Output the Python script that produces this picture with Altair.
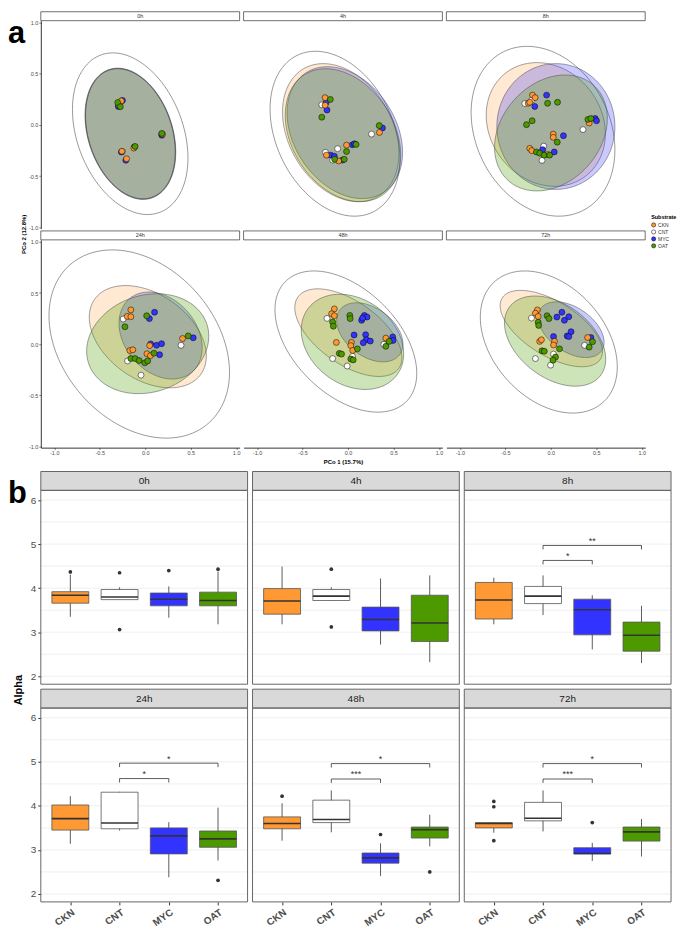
import json
import numpy as np
import pandas as pd
import altair as alt

FONT = "Liberation Sans"
SUBS = ["CKN", "CNT", "MYC", "OAT"]
SUB_COLORS = ["#FF9933", "#FFFFFF", "#3333FF", "#4C9900"]
ELL_OPACITY = {"CKN": 0.22, "MYC": 0.26, "OAT": 0.28}
DRAW_ORDER = ["CNT", "MYC", "CKN", "OAT"]

A_TICKS = [-1.0, -0.5, 0.0, 0.5, 1.0]
B_TICKS = [2, 3, 4, 5, 6]
B_GRID = [2.0, 2.5, 3.0, 3.5, 4.0, 4.5, 5.0, 5.5, 6.0]

# ---------------- (a) PCoA scores: (PCo1, PCo2) ----------------
PTS_0H = {
    "CNT": [(-0.28, 0.20), (-0.25, -0.26), (0.18, -0.09)],
    "MYC": [(-0.296, 0.181), (-0.25, 0.24), (-0.262, -0.265), (-0.213, -0.345), (-0.12, -0.215), (0.183, -0.10)],
    "CKN": [(-0.263, 0.235), (-0.288, 0.19), (-0.256, -0.257), (-0.205, -0.33), (-0.125, -0.226), (0.19, -0.09)],
    "OAT": [(-0.302, 0.219), (-0.274, 0.178), (-0.111, -0.21), (0.183, -0.083)],
}
PTS_4H = {
    "CNT": [(-0.288, 0.197), (0.259, -0.089), (-0.114, -0.232), (-0.248, -0.267), (-0.169, -0.343)],
    "MYC": [(-0.241, 0.219), (-0.231, 0.146), (0.379, -0.029), (0.049, -0.194), (0.071, -0.184),
            (-0.19, -0.295), (-0.15, -0.305), (-0.06, -0.343)],
    "CKN": [(-0.252, 0.267), (-0.252, 0.193), (0.346, -0.073), (-0.016, -0.197), (-0.237, -0.295), (-0.103, -0.352)],
    "OAT": [(-0.194, 0.25), (-0.288, 0.076), (0.343, -0.006), (0.089, -0.19), (-0.016, -0.26),
            (-0.147, -0.336), (-0.041, -0.336)],
}
PTS_8H = {
    "CNT": [(-0.212, 0.241), (-0.285, 0.21), (0.354, -0.045), (-0.078, -0.207), (-0.096, -0.346)],
    "MYC": [(-0.176, 0.181), (-0.046, 0.292), (0.488, 0.063), (0.503, 0.041), (0.139, -0.105),
            (-0.089, -0.241), (0.038, -0.264)],
    "CKN": [(-0.201, 0.292), (-0.172, 0.267), (-0.248, 0.212), (-0.231, 0.222), (0.422, 0.019),
            (0.027, -0.089), (0.027, -0.121), (-0.231, -0.229), (-0.209, -0.251), (-0.035, -0.289)],
    "OAT": [(-0.035, 0.212), (0.074, 0.222), (-0.205, 0.041), (-0.267, 0.003), (0.408, 0.054), (0.441, 0.063),
            (0.071, -0.168), (-0.158, -0.264), (-0.122, -0.276), (-0.074, -0.295), (-0.013, -0.295)],
}
PTS_24H = {
    "CNT": [(-0.242, 0.246), (-0.194, -0.164), (-0.046, -0.303), (0.394, -0.011)],
    "MYC": [(0.046, 0.25), (0.103, 0.312), (0.06, 0.002), (0.125, -0.011), (0.18, 0.005), (0.158, -0.103), (0.528, 0.062)],
    "CKN": [(-0.158, 0.335), (-0.198, 0.271), (-0.158, 0.268), (-0.169, -0.062), (-0.136, -0.055),
            (0.049, -0.014), (0.019, -0.094), (0.057, -0.113), (0.411, 0.055)],
    "OAT": [(-0.223, 0.17), (0.016, 0.278), (-0.158, -0.141), (-0.111, -0.141), (-0.067, -0.16),
            (-0.005, -0.183), (0.027, -0.164), (0.096, -0.088), (0.473, 0.081)],
}
PTS_48H = {
    "CNT": [(-0.231, 0.252), (0.394, -0.002), (-0.169, -0.141), (0.049, -0.119), (-0.009, -0.214)],
    "MYC": [(0.18, 0.281), (0.209, 0.265), (0.15, 0.233), (0.161, 0.255), (0.067, 0.09), (0.194, 0.093),
            (0.201, 0.043), (0.245, 0.03), (0.168, 0.014), (0.492, 0.071), (0.495, 0.036)],
    "CKN": [(-0.15, 0.345), (-0.18, 0.297), (-0.15, 0.278), (-0.128, 0.017), (0.038, 0.017),
            (0.031, -0.014), (0.052, -0.062), (0.416, 0.059)],
    "OAT": [(-0.169, 0.217), (-0.161, 0.176), (0.02, 0.281), (0.024, 0.25), (0.103, -0.046), (0.416, -0.021),
            (0.452, 0.027), (-0.096, -0.09), (-0.071, -0.097), (0.031, -0.145), (0.057, -0.154)],
}
PTS_72H = {
    "CNT": [(-0.212, 0.255), (0.03, -0.097), (-0.002, -0.205), (-0.169, -0.141), (0.372, -0.011)],
    "MYC": [(0.067, 0.265), (0.122, 0.312), (0.198, 0.268), (0.15, 0.233), (0.03, 0.074), (0.18, 0.081),
            (0.223, 0.122), (0.198, 0.074), (0.441, 0.065)],
    "CKN": [(-0.147, 0.335), (-0.169, 0.303), (-0.139, 0.271), (-0.122, 0.027), (-0.103, 0.043),
            (0.041, 0.027), (0.03, -0.008), (0.405, 0.065)],
    "OAT": [(-0.139, 0.214), (-0.133, 0.183), (-0.041, 0.278), (-0.02, 0.25), (0.096, -0.046), (-0.096, -0.065),
            (-0.071, -0.069), (0.052, -0.126), (0.024, -0.157), (0.459, 0.024), (0.422, -0.029)],
}

# confidence ellipses: (xmin, xmax, ymin, ymax, correlation)
ELL_0H = {"CNT": (-0.80, 0.47, -0.876, 0.705, -0.30), "CKN": (-0.658, 0.332, -0.724, 0.552, -0.28),
          "MYC": (-0.662, 0.336, -0.728, 0.556, -0.28), "OAT": (-0.656, 0.330, -0.722, 0.550, -0.28)}
ELL_4H = {"CNT": (-0.857, 0.571, -0.892, 0.721, -0.30), "CKN": (-0.72, 0.56, -0.75, 0.60, -0.30),
          "MYC": (-0.67, 0.60, -0.72, 0.57, -0.30), "OAT": (-0.69, 0.58, -0.75, 0.55, -0.30)}
ELL_8H = {"CNT": (-0.876, 0.705, -0.892, 0.769, -0.22), "CKN": (-0.71, 0.60, -0.60, 0.61, -0.15),
          "MYC": (-0.593, 0.705, -0.63, 0.60, 0.0), "OAT": (-0.618, 0.622, -0.645, 0.489, 0.25)}
ELL_24H = {"CNT": (-1.058, 0.927, -0.919, 0.922, -0.30), "CKN": (-0.615, 0.672, -0.427, 0.573, -0.38),
           "MYC": (-0.288, 0.626, -0.341, 0.51, -0.28), "OAT": (-0.644, 0.699, -0.484, 0.493, 0.15)}
ELL_48H = {"CNT": (-0.803, 0.756, -0.665, 0.716, -0.45), "CKN": (-0.585, 0.593, -0.316, 0.541, -0.57),
           "MYC": (-0.125, 0.604, -0.173, 0.405, -0.40), "OAT": (-0.514, 0.612, -0.443, 0.488, -0.25)}
ELL_72H = {"CNT": (-0.775, 0.731, -0.674, 0.716, -0.35), "CKN": (-0.557, 0.568, -0.221, 0.526, -0.60),
           "MYC": (-0.139, 0.586, -0.131, 0.414, -0.45), "OAT": (-0.509, 0.604, -0.411, 0.471, -0.40)}

# ---------------- (b) Alpha diversity boxplots ----------------
# (lower whisker, Q1, median, Q3, upper whisker)
BOX_0H = {"CKN": (3.35, 3.66, 3.84, 3.92, 4.31), "CNT": (3.74, 3.74, 3.80, 3.97, 4.02),
          "MYC": (3.33, 3.60, 3.75, 3.89, 4.04), "OAT": (3.18, 3.60, 3.72, 3.91, 4.38)}
OUT_0H = {"CKN": [4.37], "CNT": [4.35, 3.06], "MYC": [4.40], "OAT": [4.43]}
SIG_0H = []
BOX_4H = {"CKN": (3.18, 3.41, 3.71, 3.99, 4.49), "CNT": (3.72, 3.72, 3.82, 3.97, 4.02),
          "MYC": (2.72, 3.03, 3.29, 3.57, 4.22), "OAT": (2.32, 2.79, 3.21, 3.84, 4.29)}
OUT_4H = {"CKN": [], "CNT": [4.43, 3.12], "MYC": [], "OAT": []}
SIG_4H = []
BOX_8H = {"CKN": (3.18, 3.30, 3.73, 4.13, 4.24), "CNT": (3.39, 3.65, 3.82, 4.04, 4.29),
          "MYC": (2.61, 2.94, 3.51, 3.75, 3.84), "OAT": (2.30, 2.57, 2.93, 3.23, 3.60)}
OUT_8H = {"CKN": [], "CNT": [], "MYC": [], "OAT": []}
SIG_8H = [("CNT", "MYC", 4.63, "*"), ("CNT", "OAT", 4.97, "**")]
BOX_24H = {"CKN": (3.14, 3.45, 3.71, 4.02, 4.22), "CNT": (3.44, 3.48, 3.61, 4.31, 4.32),
           "MYC": (2.38, 2.91, 3.32, 3.50, 3.63), "OAT": (2.76, 3.06, 3.25, 3.43, 3.96)}
OUT_24H = {"CKN": [], "CNT": [], "MYC": [], "OAT": [2.31]}
SIG_24H = [("CNT", "MYC", 4.62, "*"), ("CNT", "OAT", 4.97, "*")]
BOX_48H = {"CKN": (3.21, 3.48, 3.60, 3.75, 4.06), "CNT": (3.40, 3.62, 3.69, 4.13, 4.35),
           "MYC": (2.41, 2.70, 2.82, 2.93, 3.15), "OAT": (3.08, 3.27, 3.46, 3.52, 3.80)}
OUT_48H = {"CKN": [4.22], "CNT": [], "MYC": [3.35], "OAT": [2.50]}
SIG_48H = [("CNT", "MYC", 4.61, "***"), ("CNT", "OAT", 4.96, "*")]
BOX_72H = {"CKN": (3.39, 3.50, 3.60, 3.62, 3.63), "CNT": (3.42, 3.66, 3.72, 4.08, 4.35),
           "MYC": (2.75, 2.91, 2.92, 3.05, 3.16), "OAT": (2.85, 3.20, 3.41, 3.52, 3.70)}
OUT_72H = {"CKN": [4.10, 3.98, 3.21], "CNT": [], "MYC": [3.62], "OAT": []}
SIG_72H = [("CNT", "MYC", 4.61, "***"), ("CNT", "OAT", 4.96, "*")]

# ---------------- layout ----------------
CELL_W = 208          # grid column width (boxplot panels)
COL_GAP = 5
AW, AH = 200, 209     # PCoA panel plot size (drawn narrower, shifted left per column)
A_STEP = 204          # column step of the PCoA panels
AX_DOM = [-1.148, 1.038]
AY_DOM = [-1.012, 1.02]
BW, BH = CELL_W, 195
BX_DOM = [0.4, 4.6]
BY_DOM = [1.82, 6.22]

A_LABEL_EXPR = "replace(format(datum.value, '.1f'), '\u2212', '-')"
B_LABEL_EXPR = json.dumps(SUBS) + "[datum.value - 1]"

FILL_SCALE = alt.Scale(domain=SUBS, range=SUB_COLORS)
LEGEND = alt.Legend(title="Substrate", orient="none", legendX=614, legendY=196,
                    titleFontSize=5.5, titleFontWeight="bold", titleColor="#000000", titlePadding=1.5,
                    labelFontSize=5, labelColor="#333333", symbolType="circle", symbolSize=18,
                    symbolStrokeColor="#000000", symbolStrokeWidth=0.5, rowPadding=0, labelOffset=2,
                    padding=0)


def ellipse_points(xmin, xmax, ymin, ymax, rho):
    cx, cy = (xmin + xmax) / 2, (ymin + ymax) / 2
    rx, ry = (xmax - xmin) / 2, (ymax - ymin) / 2
    phi = np.arccos(rho)
    t = np.linspace(0, 2 * np.pi, 121)
    return pd.DataFrame({"x": cx + rx * np.cos(t), "y": cy + ry * np.cos(t + phi), "i": np.arange(len(t))})


def a_panel(label, col, pts, ells, show_x, show_y, x_title=None, first=False):
    off = col * (A_STEP - (CELL_W + COL_GAP))
    xs = alt.Scale(domain=AX_DOM, range=[off, off + AW], nice=False, zero=False)
    ys = alt.Scale(domain=AY_DOM, nice=False, zero=False)
    common = dict(values=A_TICKS, labelExpr=A_LABEL_EXPR, labelFontSize=5.5, labelColor="#4d4d4d",
                  tickSize=2, tickColor="#333333", tickWidth=0.6, domainColor="#000000", domainWidth=0.8,
                  grid=False, labelPadding=1)
    xax = alt.Axis(**common, titleFontSize=6, titleFontWeight="bold", titleColor="#000000",
                   titlePadding=2) if show_x else None
    yax = alt.Axis(**common) if show_y else None

    def X(f):
        return alt.X(f, type="quantitative", scale=xs, axis=xax, title=x_title)

    def Y(f):
        return alt.Y(f, type="quantitative", scale=ys, axis=yax, title=None)

    one = pd.DataFrame({"t": [label]})
    layers = []
    for sub in ["CNT", "CKN", "MYC", "OAT"]:
        edf = ellipse_points(*ells[sub])
        if sub == "CNT":
            mk = dict(fill="#FFFFFF", fillOpacity=1, stroke="#555555", strokeWidth=0.6)
        else:
            mk = dict(fill=SUB_COLORS[SUBS.index(sub)], fillOpacity=ELL_OPACITY[sub], stroke="#444444",
                      strokeWidth=0.5)
        layers.append(alt.Chart(edf).mark_line(**mk).encode(x=X("x"), y=Y("y"), order="i:Q"))

    rows = []
    for sub in DRAW_ORDER:
        for (px, py) in pts[sub]:
            rows.append({"sub": sub, "x": px, "y": py})
    pdf = pd.DataFrame(rows)
    layers.append(alt.Chart(pdf).mark_circle(size=36, stroke="#000000", strokeWidth=0.5, opacity=1).encode(
        x=X("x"), y=Y("y"), fill=alt.Fill("sub:N", scale=FILL_SCALE, legend=LEGEND)))

    layers.append(alt.Chart(one).mark_rect(fill="#FFFFFF", stroke="#333333", strokeWidth=0.7).encode(
        x=alt.value(off), x2=alt.value(off + AW), y=alt.value(-9), y2=alt.value(0)))
    layers.append(alt.Chart(one).mark_text(fontSize=5.5, color="#333333").encode(
        text="t:N", x=alt.value(off + AW / 2), y=alt.value(-4.5)))
    if first:
        lab = pd.DataFrame({"t": ["a"]})
        layers.append(alt.Chart(lab).mark_text(fontSize=31, fontWeight="bold", color="#000000", align="left",
                                               baseline="alphabetic").encode(
            text="t:N", x=alt.value(-33), y=alt.value(22)))
        ttl = pd.DataFrame({"t": ["PCo 2  (12.8%)"]})
        layers.append(alt.Chart(ttl).mark_text(fontSize=6, fontWeight="bold", color="#000000", angle=270).encode(
            text="t:N", x=alt.value(-17), y=alt.value(215)))
    return alt.layer(*layers).properties(width=CELL_W, height=AH)


def b_panel(label, box, outs, sigs, show_x, show_y, first=False):
    xs = alt.Scale(domain=BX_DOM, nice=False, zero=False)
    ys = alt.Scale(domain=BY_DOM, nice=False, zero=False)
    xax = alt.Axis(values=[1, 2, 3, 4], labelExpr=B_LABEL_EXPR, labelAngle=-35, labelFontSize=10,
                   labelFontWeight="bold", labelColor="#4d4d4d", tickSize=3, tickColor="#333333",
                   domain=False, grid=False, labelPadding=2) if show_x else None
    yax = alt.Axis(values=B_TICKS, labelFontSize=10, labelColor="#4d4d4d", tickSize=3, tickColor="#333333",
                   domain=False, grid=False, labelPadding=2) if show_y else None

    def X(f):
        return alt.X(f, type="quantitative", scale=xs, axis=xax, title=None)

    def Y(f):
        return alt.Y(f, type="quantitative", scale=ys, axis=yax, title=None)

    rows = []
    for k, sub in enumerate(SUBS):
        lo, q1, md, q3, hi = box[sub]
        rows.append({"sub": sub, "pos": k + 1, "x1": k + 1 - 0.375, "x2": k + 1 + 0.375,
                     "lo": lo, "q1": q1, "med": md, "q3": q3, "hi": hi, "col": SUB_COLORS[k]})
    bdf = pd.DataFrame(rows)
    odf = pd.DataFrame([{"pos": SUBS.index(s) + 1, "v": v} for s in SUBS for v in outs[s]],
                       columns=["pos", "v"])
    one = pd.DataFrame({"t": [label]})
    gdf = pd.DataFrame({"g": B_GRID})

    layers = [
        alt.Chart(gdf).mark_rule(color="#ebebeb", strokeWidth=0.8).encode(y=Y("g")),
        alt.Chart(bdf).mark_rule(color="#333333", strokeWidth=0.8).encode(x=X("pos"), y=Y("lo"), y2="hi:Q"),
        alt.Chart(bdf).mark_rect(stroke="#555555", strokeWidth=0.8).encode(
            x=X("x1"), x2="x2:Q", y=Y("q1"), y2="q3:Q", fill=alt.Fill("col:N", scale=None)),
        alt.Chart(bdf).mark_rule(color="#333333", strokeWidth=1.6).encode(x=X("x1"), x2="x2:Q", y=Y("med")),
    ]
    if len(odf):
        layers.append(alt.Chart(odf).mark_circle(size=14, color="#333333", opacity=1).encode(x=X("pos"), y=Y("v")))
    if sigs:
        sdf = pd.DataFrame([{"c1": SUBS.index(a) + 1, "c2": SUBS.index(b) + 1, "y": y,
                             "ylow": y - 0.09, "xm": (SUBS.index(a) + SUBS.index(b)) / 2 + 1,
                             "ty": y + 0.15, "lab": lab} for a, b, y, lab in sigs])
        layers += [
            alt.Chart(sdf).mark_rule(color="#333333", strokeWidth=0.8).encode(x=X("c1"), x2="c2:Q", y=Y("y")),
            alt.Chart(sdf).mark_rule(color="#333333", strokeWidth=0.8).encode(x=X("c1"), y=Y("ylow"), y2="y:Q"),
            alt.Chart(sdf).mark_rule(color="#333333", strokeWidth=0.8).encode(x=X("c2"), y=Y("ylow"), y2="y:Q"),
            alt.Chart(sdf).mark_text(fontSize=9, color="#333333", baseline="middle", dy=2).encode(
                x=X("xm"), y=Y("ty"), text="lab:N"),
        ]
    layers += [
        alt.Chart(one).mark_rect(fill="#d9d9d9", stroke="#666666", strokeWidth=1).encode(
            x=alt.value(0), x2=alt.value(BW), y=alt.value(-19), y2=alt.value(0)),
        alt.Chart(one).mark_text(fontSize=10, color="#1a1a1a").encode(
            text="t:N", x=alt.value(BW / 2), y=alt.value(-9.5)),
        alt.Chart(one).mark_rect(fillOpacity=0, stroke="#666666", strokeWidth=1).encode(
            x=alt.value(0), x2=alt.value(BW), y=alt.value(0), y2=alt.value(BH)),
    ]
    if first:
        lab = pd.DataFrame({"t": ["b"]})
        layers.append(alt.Chart(lab).mark_text(fontSize=31, fontWeight="bold", color="#000000", align="left",
                                               baseline="alphabetic").encode(
            text="t:N", x=alt.value(-33), y=alt.value(13)))
        ttl = pd.DataFrame({"t": ["Alpha"]})
        layers.append(alt.Chart(ttl).mark_text(fontSize=11, fontWeight="bold", color="#000000", angle=270).encode(
            text="t:N", x=alt.value(-22), y=alt.value(201)))
    return alt.layer(*layers).properties(width=BW, height=BH)


def spacer(h):
    return alt.Chart(pd.DataFrame({"t": [0]})).mark_point(opacity=0).encode(
        x=alt.value(0), y=alt.value(0)).properties(width=1, height=h)


cells = [
    a_panel("0h", 0, PTS_0H, ELL_0H, False, True, first=True),
    a_panel("4h", 1, PTS_4H, ELL_4H, False, False),
    a_panel("8h", 2, PTS_8H, ELL_8H, False, False),
    a_panel("24h", 0, PTS_24H, ELL_24H, True, True),
    a_panel("48h", 1, PTS_48H, ELL_48H, True, False, x_title="PCo 1  (15.7%)"),
    a_panel("72h", 2, PTS_72H, ELL_72H, True, False),
    spacer(20), spacer(20), spacer(20),
    b_panel("0h", BOX_0H, OUT_0H, SIG_0H, False, True, first=True),
    b_panel("4h", BOX_4H, OUT_4H, SIG_4H, False, False),
    b_panel("8h", BOX_8H, OUT_8H, SIG_8H, False, False),
    spacer(1), spacer(1), spacer(1),
    b_panel("24h", BOX_24H, OUT_24H, SIG_24H, True, True),
    b_panel("48h", BOX_48H, OUT_48H, SIG_48H, True, False),
    b_panel("72h", BOX_72H, OUT_72H, SIG_72H, True, False),
]

chart = alt.concat(*cells, columns=3, spacing={"row": 11.5, "column": COL_GAP}, bounds="flush", align="none")
chart = chart.resolve_scale(fill="shared").resolve_legend(fill="shared").properties(padding=0)
chart = chart.configure(font=FONT).configure_view(stroke=None)

chart.save("out.html", embed_options={"renderer": "svg", "actions": False})
